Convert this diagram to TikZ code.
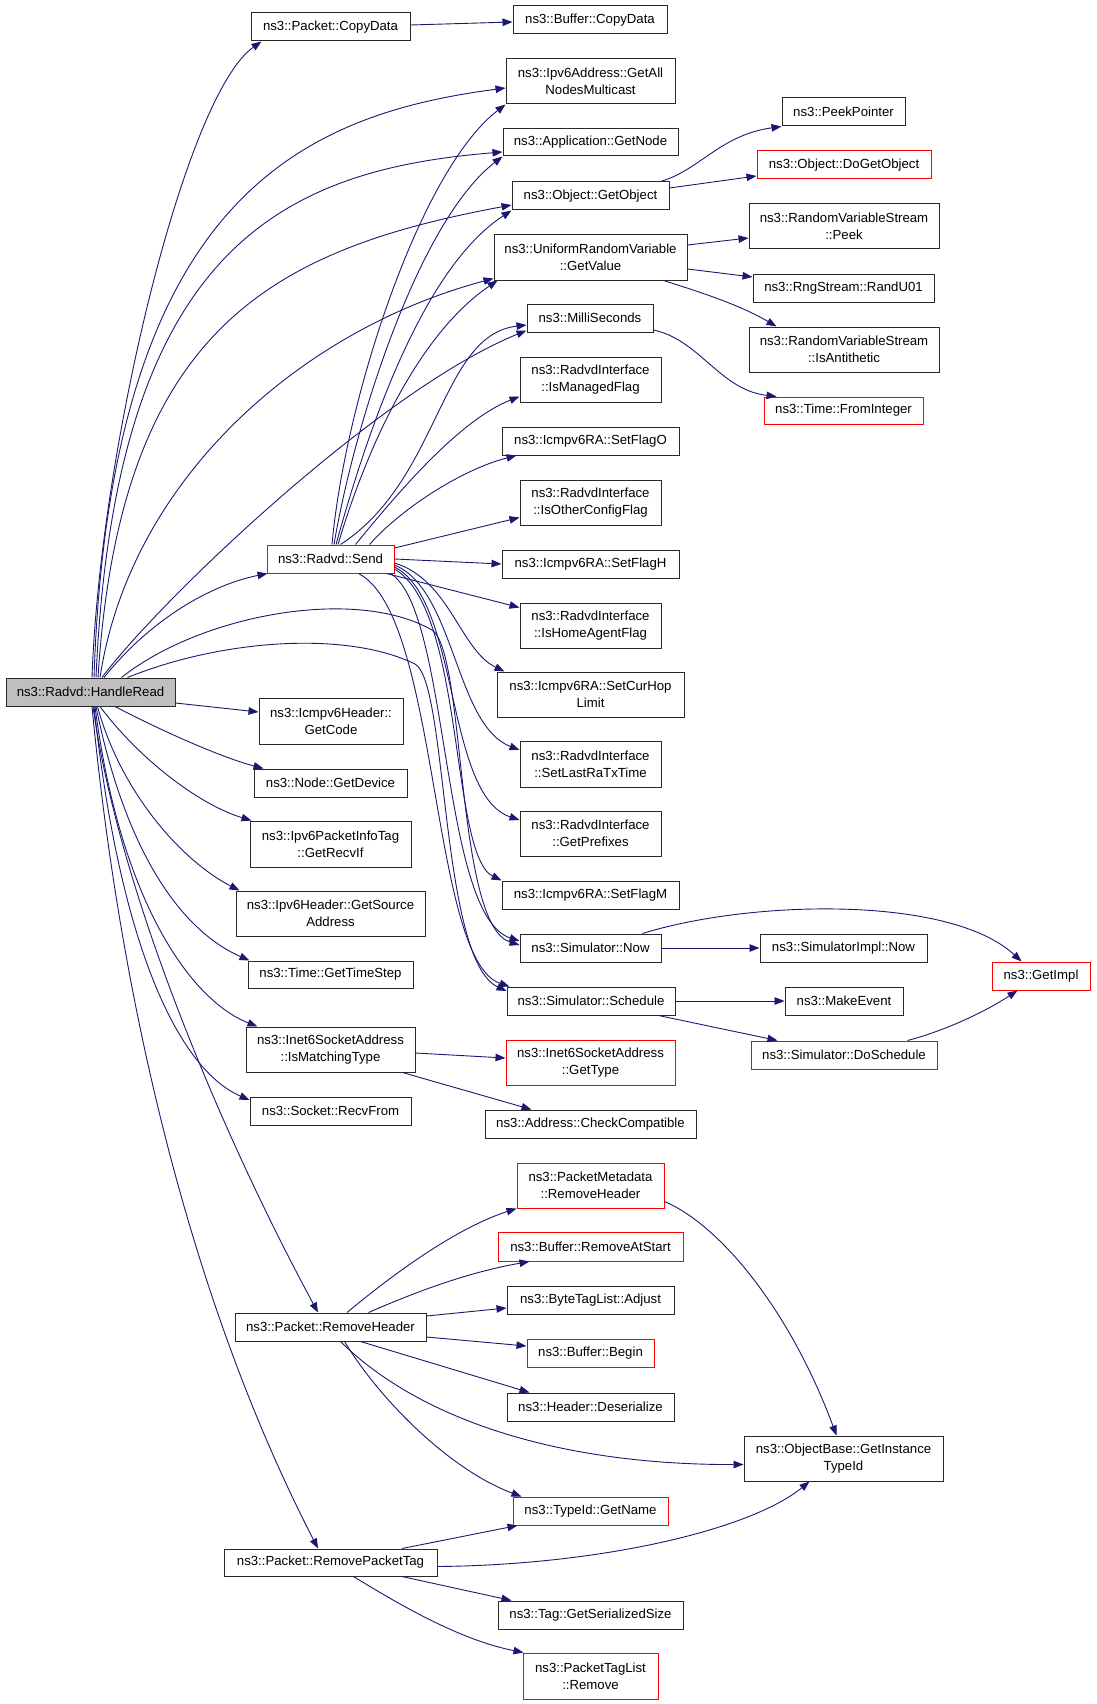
\documentclass[tikz,border=0pt]{standalone}
\usepackage{fontspec}
\setmainfont{Liberation Sans}
\usetikzlibrary{arrows.meta,calc}
\definecolor{edgeblue}{RGB}{25,25,112}
\definecolor{hrgray}{RGB}{191,191,191}
\definecolor{boxline}{RGB}{40,40,40}
\tikzset{
  fn/.style={draw=boxline, line width=1pt, inner sep=0pt, align=center,
    font=\fontsize{13.2}{17}\selectfont, fill=white},
  fnred/.style={fn, draw=red},
  fnroot/.style={fn, fill=hrgray},
  edge/.style={draw=edgeblue, line width=0.9pt, -{Triangle[length=10pt,width=7.5pt]}},
}
\newcommand\mkbox[6]{\node[#1, minimum width=#4, minimum height=#5] (#2) at (#3) {#6};}
\begin{document}
\begin{tikzpicture}[x=1pt,y=-1pt]
\useasboundingbox (0,0) rectangle (1096,1704);
% nodes
\mkbox{fnroot}{hr}{90.5,692}{169}{28}{ns3::Radvd::HandleRead}
\mkbox{fn}{cpd}{330.5,27}{159}{28}{ns3::Packet::CopyData}
\mkbox{fn}{bcd}{590,20}{154}{28}{ns3::Buffer::CopyData}
\mkbox{fn}{gan}{590.5,81.5}{169}{45}{ns3::Ipv6Address::GetAll\\NodesMulticast}
\mkbox{fn}{agn}{590.5,142.5}{175}{27}{ns3::Application::GetNode}
\mkbox{fn}{ogo}{590.5,196}{157}{28}{ns3::Object::GetObject}
\mkbox{fn}{gv}{590.5,257.5}{193}{45}{ns3::UniformRandomVariable\\::GetValue}
\mkbox{fn}{ms}{590,318}{126}{28}{ns3::MilliSeconds}
\mkbox{fn}{imf}{590.5,379.5}{141}{45}{ns3::RadvdInterface\\::IsManagedFlag}
\mkbox{fn}{sfo}{590.5,441}{177}{28}{ns3::Icmpv6RA::SetFlagO}
\mkbox{fn}{iocf}{590.5,502.5}{141}{45}{ns3::RadvdInterface\\::IsOtherConfigFlag}
\mkbox{fnred}{snd}{330.5,559}{127}{28}{ns3::Radvd::Send}
\mkbox{fn}{sfh}{590.5,564}{177}{28}{ns3::Icmpv6RA::SetFlagH}
\mkbox{fn}{ihaf}{590.5,625.5}{141}{45}{ns3::RadvdInterface\\::IsHomeAgentFlag}
\mkbox{fn}{schl}{590.5,694.5}{187}{45}{ns3::Icmpv6RA::SetCurHop\\Limit}
\mkbox{fn}{slrt}{590.5,764}{141}{46}{ns3::RadvdInterface\\::SetLastRaTxTime}
\mkbox{fn}{gpf}{590.5,833.5}{141}{45}{ns3::RadvdInterface\\::GetPrefixes}
\mkbox{fn}{sfm}{590.5,895}{177}{28}{ns3::Icmpv6RA::SetFlagM}
\mkbox{fn}{snow}{590.5,948}{141}{28}{ns3::Simulator::Now}
\mkbox{fn}{ssch}{591,1001}{168}{28}{ns3::Simulator::Schedule}
\mkbox{fnred}{gty}{590.5,1062.5}{169}{45}{ns3::Inet6SocketAddress\\::GetType}
\mkbox{fn}{ccmp}{590.5,1124}{211}{28}{ns3::Address::CheckCompatible}
\mkbox{fnred}{pmrh}{590.5,1185.5}{147}{45}{ns3::PacketMetadata\\::RemoveHeader}
\mkbox{fnred}{bras}{590.5,1246.5}{185}{29}{ns3::Buffer::RemoveAtStart}
\mkbox{fn}{btla}{590.5,1300}{167}{28}{ns3::ByteTagList::Adjust}
\mkbox{fnred}{bbeg}{590.5,1353}{127}{28}{ns3::Buffer::Begin}
\mkbox{fn}{hdes}{590.5,1407}{167}{28}{ns3::Header::Deserialize}
\mkbox{fnred}{tgn}{590.5,1511}{155}{28}{ns3::TypeId::GetName}
\mkbox{fn}{tgss}{590.5,1615}{185}{28}{ns3::Tag::GetSerializedSize}
\mkbox{fnred}{ptlr}{590.5,1676}{135}{46}{ns3::PacketTagList\\::Remove}
\mkbox{fn}{prpt}{330.5,1562.5}{213}{27}{ns3::Packet::RemovePacketTag}
\mkbox{fn}{prh}{330.5,1327}{191}{28}{ns3::Packet::RemoveHeader}
\mkbox{fn}{obgit}{843.5,1458.5}{199}{45}{ns3::ObjectBase::GetInstance\\TypeId}
\mkbox{fn}{pp}{843.5,112}{123}{28}{ns3::PeekPointer}
\mkbox{fnred}{dgo}{844,165}{174}{28}{ns3::Object::DoGetObject}
\mkbox{fn}{rvsp}{844,226.5}{190}{45}{ns3::RandomVariableStream\\::Peek}
\mkbox{fn}{ru01}{843.5,288}{181}{28}{ns3::RngStream::RandU01}
\mkbox{fn}{rvsa}{844,349.5}{190}{45}{ns3::RandomVariableStream\\::IsAntithetic}
\mkbox{fnred}{tfi}{843.5,410.5}{159}{27}{ns3::Time::FromInteger}
\mkbox{fn}{sinow}{843.5,948}{167}{28}{ns3::SimulatorImpl::Now}
\mkbox{fnred}{gimp}{1041,976}{98}{28}{ns3::GetImpl}
\mkbox{fn}{mke}{844,1001}{118}{28}{ns3::MakeEvent}
\mkbox{fnred}{dsch}{844,1055}{186}{28}{ns3::Simulator::DoSchedule}
\mkbox{fn}{gcd}{331,721}{144}{46}{ns3::Icmpv6Header::\\GetCode}
\mkbox{fn}{gdev}{330.5,783}{153}{28}{ns3::Node::GetDevice}
\mkbox{fn}{grif}{330.5,844}{161}{46}{ns3::Ipv6PacketInfoTag\\::GetRecvIf}
\mkbox{fn}{gsa}{330.5,913.5}{189}{45}{ns3::Ipv6Header::GetSource\\Address}
\mkbox{fn}{gts}{330.5,974.5}{165}{27}{ns3::Time::GetTimeStep}
\mkbox{fn}{imt}{330.5,1049.5}{169}{45}{ns3::Inet6SocketAddress\\::IsMatchingType}
\mkbox{fn}{rcv}{330.5,1111}{161}{28}{ns3::Socket::RecvFrom}
% edges from HandleRead (upwards)
\draw[edge] ($(hr.north)+(1.5,0)$) .. controls (100,450) and (185,95) .. ($(cpd.south west)+(11,0)$);
\draw[edge] ($(hr.north)+(3.5,0)$) .. controls (110,200) and (300,115) .. ($(gan.west)+(0,6.5)$);
\draw[edge] ($(hr.north)+(5.5,0)$) .. controls (115,250) and (280,170) .. ($(agn.west)+(0,9.5)$);
\draw[edge] ($(hr.north)+(7.5,0)$) .. controls (120,330) and (270,250) .. ($(ogo.west)+(0,9)$);
\draw[edge] ($(hr.north)+(9.5,0)$) .. controls (130,480) and (300,330) .. ($(gv.south west)+(0,-2)$);
\draw[edge] ($(hr.north)+(11.5,0)$) .. controls (160,600) and (380,390) .. ($(ms.south west)+(0,-2)$);
\draw[edge] ($(hr.north)+(13.5,0)$) .. controls (150,620) and (210,585) .. ($(snd.south west)+(1,0)$);
\draw[edge] ($(hr.north)+(31,0)$) .. controls (200,615) and (355,586) .. (432,630) .. controls (466,652) and (455,925) .. ($(snow.west)+(0,-3)$);
\draw[edge] ($(hr.north)+(37,0)$) .. controls (220,640) and (345,630) .. (415,664) .. controls (448,682) and (440,960) .. ($(ssch.west)+(0,-10)$);
% edges from HandleRead (right and downwards)
\draw[edge] ($(hr.east)+(0,11)$) -- ($(gcd.west)+(0,-9)$);
\draw[edge] ($(hr.south)+(24.5,0)$) .. controls (160,730) and (220,757) .. ($(gdev.north west)+(10,0)$);
\draw[edge] ($(hr.south)+(9.5,0)$) .. controls (140,760) and (200,805) .. ($(grif.north west)+(2,0)$);
\draw[edge] ($(hr.south)+(7,0)$) .. controls (120,790) and (180,860) .. ($(gsa.north west)+(4,0)$);
\draw[edge] ($(hr.south)+(5.5,0)$) .. controls (125,850) and (180,930) .. ($(gts.north west)+(2,0)$);
\draw[edge] ($(hr.south)+(4.5,0)$) .. controls (120,900) and (190,1000) .. ($(imt.north west)+(12,0)$);
\draw[edge] ($(hr.south)+(3.5,0)$) .. controls (120,950) and (180,1070) .. ($(rcv.west)+(0,-11)$);
\draw[edge] ($(hr.south)+(2.5,0)$) .. controls (120,900) and (230,1150) .. ($(prh.north)+(-12.5,0)$);
\draw[edge] ($(hr.south)+(1.5,0)$) .. controls (120,1000) and (190,1300) .. ($(prpt.north)+(-12.5,0)$);
% edges from Send
\draw[edge] ($(snd.north)+(1.5,0)$) .. controls (345,400) and (420,170) .. (gan.south west);
\draw[edge] ($(snd.north)+(3.5,0)$) .. controls (355,420) and (420,220) .. (agn.south west);
\draw[edge] ($(snd.north)+(5.5,0)$) .. controls (365,440) and (420,270) .. (ogo.south west);
\draw[edge] ($(snd.north)+(7.5,0)$) .. controls (360,470) and (410,340) .. ($(gv.south west)+(4,0)$);
\draw[edge] ($(snd.north)+(10,0)$) .. controls (440,480) and (440,335) .. ($(ms.west)+(0,7)$);
\draw[edge] ($(snd.north)+(25,0)$) .. controls (400,490) and (460,420) .. ($(imf.west)+(0,17)$);
\draw[edge] ($(snd.north east)+(-25,0)$) .. controls (400,510) and (460,470) .. ($(sfo.south west)+(15,0)$);
\draw[edge] ($(snd.east)+(0,-11)$) -- ($(iocf.west)+(0,15)$);
\draw[edge] (snd.east) -- (sfh.west);
\draw[edge] ($(snd.south east)+(-8,0)$) -- ($(ihaf.west)+(0,-18)$);
\draw[edge] ($(snd.east)+(0,4)$) .. controls (450,580) and (460,650) .. ($(schl.north west)+(8,0)$);
\draw[edge] ($(snd.east)+(0,6)$) .. controls (455,590) and (455,725) .. ($(slrt.west)+(0,-14)$);
\draw[edge] ($(snd.east)+(0,8)$) .. controls (460,600) and (445,795) .. ($(gpf.west)+(0,-13.5)$);
\draw[edge] ($(snd.east)+(0,10)$) .. controls (465,610) and (450,855) .. (sfm.north west);
\draw[edge] ($(snd.south east)+(-4,0)$) .. controls (450,610) and (440,915) .. ($(snow.west)+(0,-7)$);
\draw[edge] ($(snd.south)+(28,0)$) .. controls (440,615) and (430,960) .. ($(ssch.north west)+(3,0)$);
% other edges
\draw[edge] ($(cpd.east)+(0,-2)$) -- ($(bcd.west)+(0,2)$);
\draw[edge] ($(ogo.north east)+(-9,0)$) .. controls (700,170) and (720,135) .. (pp.south west);
\draw[edge] ($(ogo.east)+(0,-8)$) -- ($(dgo.west)+(0,11)$);
\draw[edge] ($(gv.east)+(0,-12.5)$) -- ($(rvsp.west)+(0,11.5)$);
\draw[edge] ($(gv.east)+(0,11.5)$) -- ($(ru01.west)+(0,-11)$);
\draw[edge] ($(gv.south east)+(-24,0)$) .. controls (700,292) and (740,305) .. ($(rvsa.north west)+(28,0)$);
\draw[edge] ($(ms.east)+(0,12)$) .. controls (700,340) and (720,390) .. ($(tfi.north west)+(13,0)$);
\draw[edge] (snow.east) -- (sinow.west);
\draw[edge] ($(snow.north east)+(-19,0)$) .. controls (750,900) and (950,895) .. ($(gimp.north west)+(30,0)$);
\draw[edge] (ssch.east) -- (mke.west);
\draw[edge] ($(ssch.south east)+(-17,0)$) -- ($(dsch.north west)+(27,0)$);
\draw[edge] ($(dsch.north east)+(-30,0)$) .. controls (940,1032) and (980,1015) .. ($(gimp.south west)+(26,0)$);
\draw[edge] ($(imt.east)+(0,3.5)$) -- ($(gty.west)+(0,-4.5)$);
\draw[edge] ($(imt.south east)+(-13,0)$) -- ($(ccmp.north west)+(47,0)$);
\draw[edge] ($(prh.north)+(16.5,0)$) .. controls (380,1285) and (450,1230) .. (pmrh.south west);
\draw[edge] ($(prh.north east)+(-58,0)$) .. controls (420,1290) and (470,1272) .. ($(bras.south west)+(32,0)$);
\draw[edge] ($(prh.east)+(0,-11)$) -- ($(btla.west)+(0,8)$);
\draw[edge] ($(prh.east)+(0,10)$) -- ($(bbeg.west)+(0,-7)$);
\draw[edge] ($(prh.south)+(30,0)$) -- ($(hdes.north west)+(23,0)$);
\draw[edge] ($(prh.south)+(10,0)$) .. controls (420,1420) and (560,1465) .. ($(obgit.west)+(0,6)$);
\draw[edge] ($(prh.south)+(14,0)$) .. controls (380,1400) and (450,1470) .. ($(tgn.north west)+(9,0)$);
\draw[edge] ($(pmrh.east)+(0,16)$) .. controls (720,1225) and (790,1310) .. ($(obgit.north west)+(93,0)$);
\draw[edge] ($(prpt.north)+(71.5,0)$) -- ($(tgn.south west)+(5,0)$);
\draw[edge] ($(prpt.east)+(0,4)$) .. controls (600,1565) and (750,1530) .. ($(obgit.south west)+(66,0)$);
\draw[edge] ($(prpt.south)+(71.5,0)$) -- ($(tgss.north west)+(14,0)$);
\draw[edge] ($(prpt.south)+(23,0)$) .. controls (400,1605) and (460,1640) .. ($(ptlr.north west)+(1,0)$);
\end{tikzpicture}
\end{document}
